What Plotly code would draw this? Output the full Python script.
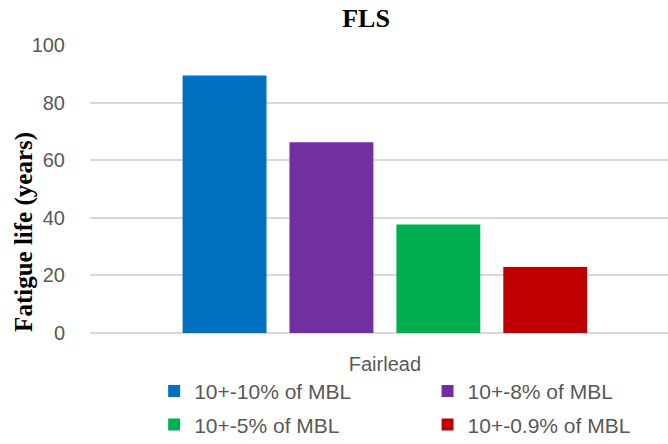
import plotly.graph_objects as go

category = ["Fairlead"]
series = ["10+-10% of MBL", "10+-8% of MBL", "10+-5% of MBL", "10+-0.9% of MBL"]
fatigue_life = [89.4, 66.2, 37.7, 22.9]
colors = ["#0070C0", "#7030A0", "#00B050", "#C00000"]
# two legend columns like the original: left column 1st and 3rd, right column 2nd and 4th
legend_ids = ["legend", "legend2", "legend", "legend2"]

fig = go.Figure()
for i, (name, val, col) in enumerate(zip(series, fatigue_life, colors)):
    fig.add_trace(go.Bar(
        x=category,
        y=[val],
        name=name,
        legend=legend_ids[i],
        legendgroup=name,
        marker=dict(color=col, line=dict(width=0)),
    ))

leg_style = dict(
    orientation="v",
    yref="container",
    y=0.1645, yanchor="top",
    font=dict(family="Liberation Sans", size=21, color="#595959"),
    tracegroupgap=3,
    traceorder="grouped",
    bgcolor="rgba(0,0,0,0)",
)

fig.update_layout(
    width=668,
    height=444,
    margin=dict(l=90, r=0, t=45, b=111, autoexpand=False),
    plot_bgcolor="white",
    paper_bgcolor="white",
    barmode="group",
    bargap=0.275,
    bargroupgap=0.215,
    title=dict(
        text="<b>FLS</b>",
        x=0.548, xanchor="center",
        y=0.96, yanchor="middle",
        font=dict(family="Liberation Serif", size=26, color="black"),
    ),
    font=dict(family="Liberation Sans", size=18, color="#595959"),
    legend=dict(x=0.111, xanchor="left", **leg_style),
    legend2=dict(x=0.584, xanchor="left", **leg_style),
    annotations=[dict(
        text="<b>Fatigue life (years)</b>",
        xref="paper", yref="paper",
        x=-0.113, y=0.35,
        xanchor="center", yanchor="middle",
        textangle=-90,
        showarrow=False,
        font=dict(family="Liberation Serif", size=25, color="black"),
    )],
)

fig.update_xaxes(
    range=[-0.5, 0.48],
    showgrid=False,
    showline=False,
    ticks="",
    tickfont=dict(size=20, color="#595959"),
    ticklabelstandoff=17,
)
fig.update_yaxes(
    range=[0, 100],
    dtick=20,
    showgrid=True,
    gridcolor="#d9d9d9",
    gridwidth=1.5,
    zeroline=True,
    zerolinecolor="#d9d9d9",
    zerolinewidth=1.5,
    tickfont=dict(size=20, color="#595959"),
    ticklabelstandoff=24,
    automargin=False,
)

# drop the browser's default body margin so the 668x444 figure fills the window
fig.write_html(
    "out.html",
    config={"displayModeBar": False},
    post_script="document.body.style.margin='0';",
)
